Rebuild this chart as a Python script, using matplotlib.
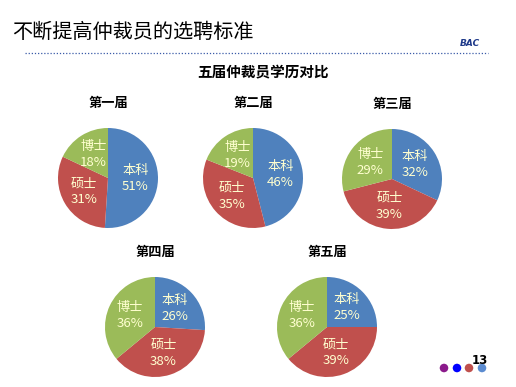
import numpy as np
import matplotlib
matplotlib.use("Agg")
import matplotlib.pyplot as plt

plt.rcParams['font.family'] = ['Noto Sans CJK SC', 'DejaVu Sans']

# === Data ===
categories = ["本科", "硕士", "博士"]
sessions = ["第一届", "第二届", "第三届", "第四届", "第五届"]
session_values = [
    [51, 31, 18],
    [46, 35, 19],
    [32, 39, 29],
    [26, 38, 36],
    [25, 39, 36],
]
colors = ["#4F81BD", "#C0504D", "#9BBB59"]

W, H = 516, 387
# pie centres and radius in pixels
centres = [(108, 178), (253, 178), (392, 179), (155, 327), (327, 327)]
radius = 50

fig = plt.figure(figsize=(W / 100, H / 100), dpi=100)
fig.patch.set_facecolor("white")

# overlay axes in pixel coordinates for page decoration
bg = fig.add_axes([0, 0, 1, 1])
bg.set_xlim(0, W)
bg.set_ylim(H, 0)
bg.axis("off")

bg.text(12, 32, "不断提高仲裁员的选聘标准", fontsize=14.5, fontweight="medium",
        va="center", ha="left", color="black")
bg.text(470, 43, "BAC", fontsize=6.5, fontweight="bold", style="italic",
        color="#1F3A8A", ha="center", va="center", family=["DejaVu Sans"])
bg.plot([25, 488], [53, 53], linestyle=(0, (1, 1.5)), color="#3A5BA8", linewidth=0.9)
bg.text(263, 72, "五届仲裁员学历对比", fontsize=10.5, fontweight="bold", ha="center", va="center")

dot_colors = ["#8B1A8B", "#0000FF", "#C0504D", "#5B8BD0"]
bg.scatter([444, 457, 469, 482], [368] * 4, s=38, c=dot_colors, edgecolors="none")
bg.text(480, 360, "13", fontsize=8.5, fontweight="bold", ha="center", va="center",
        family=["DejaVu Sans"])

# === Pies ===
for name, vals, (cx, cy) in zip(sessions, session_values, centres):
    ax = fig.add_axes([(cx - radius) / W, 1 - (cy + radius) / H, 2 * radius / W, 2 * radius / H])
    wedges, _ = ax.pie(vals, colors=colors, startangle=90, counterclock=False,
                       radius=1, wedgeprops=dict(linewidth=0))
    ax.set_xlim(-1, 1)
    ax.set_ylim(-1, 1)
    for w, cat, v in zip(wedges, categories, vals):
        ang = np.deg2rad((w.theta1 + w.theta2) / 2)
        r = 0.55
        ax.text(r * np.cos(ang), r * np.sin(ang), f"{cat}\n{v}%", ha="center", va="center",
                fontsize=9.5, fontweight="medium", color="#FFFFD0", linespacing=1.3)
    bg.text(cx, cy - 75, name, fontsize=9.5, fontweight="bold", ha="center", va="center")

fig.savefig("out.png", dpi=100)
